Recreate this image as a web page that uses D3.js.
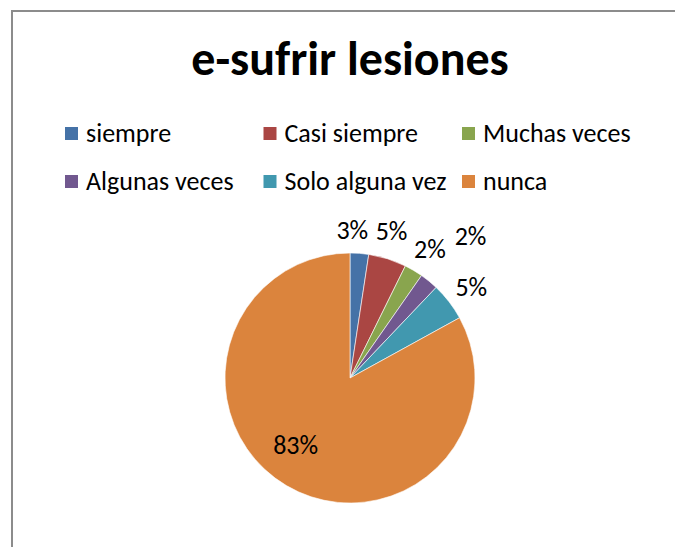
<!DOCTYPE html>
<html>
<head>
<meta charset="utf-8">
<script src="https://cdn.jsdelivr.net/npm/d3@7"></script>
<style>
    body { margin: 0; background: #fff; }
    svg text { font-family: Carlito, Calibri, Lato, sans-serif; fill: #000; }
</style>
</head>
<body>
<div id="chart"></div>
<script>
// data
var title = "e-sufrir lesiones";
var categories = ["siempre", "Casi siempre", "Muchas veces", "Algunas veces", "Solo alguna vez", "nunca"];
var values = [2.4, 4.9, 2.4, 2.4, 4.9, 83];
var valueLabels = ["3%", "5%", "2%", "2%", "5%", "83%"];
var colors = ["#4572A7", "#AA4643", "#89A54E", "#71588F", "#4198AF", "#DB843D"];

var svg_width = 675, svg_height = 547;
var svg = d3.select("#chart").append("svg")
    .attr("width", svg_width)
    .attr("height", svg_height);

// chart frame (cut off at right and bottom in the reference)
svg.append("path")
    .attr("d", "M12," + svg_height + "V11H" + svg_width)
    .attr("fill", "none")
    .attr("stroke", "#8c8c8c")
    .attr("stroke-width", 2);

svg.append("text")
    .attr("x", 350)
    .attr("y", 75)
    .attr("text-anchor", "middle")
    .style("font-size", "48px")
    .style("font-weight", "bold")
    .text(title);

// legend: 3 columns, 2 rows
var legend = svg.append("g").attr("class", "legend");
var colX = d3.scaleLinear().domain([0, 1]).range([65, 263.5]);
var rowY = d3.scaleLinear().domain([0, 1]).range([142, 190]);
var item = legend.selectAll(".item")
    .data(categories)
  .enter().append("g")
    .attr("class", "item")
    .attr("transform", function(d, i) {
        return "translate(" + colX(i % 3) + "," + rowY(Math.floor(i / 3)) + ")";
    });
item.append("rect")
    .attr("x", 0)
    .attr("y", -15)
    .attr("width", 13)
    .attr("height", 13)
    .attr("fill", function(d, i) { return colors[i]; });
item.append("text")
    .attr("x", 21)
    .attr("y", 0)
    .style("font-size", "26px")
    .text(function(d) { return d; });

// pie
var cx = 350, cy = 378, radius = 125;
var pie = d3.pie().sort(null).value(function(d) { return d; });
var arc = d3.arc().innerRadius(0).outerRadius(radius);
var arcs = pie(values);

var g = svg.append("g").attr("transform", "translate(" + cx + "," + cy + ")");
g.selectAll(".slice")
    .data(arcs)
  .enter().append("path")
    .attr("class", "slice")
    .attr("d", arc)
    .attr("fill", function(d, i) { return colors[i]; })
    .attr("stroke", "#fff")
    .attr("stroke-width", 0.6);

// label radius per slice (outside end, one pushed out to avoid overlap, big slice inside)
var labelRadius = [148, 153, 152, 186, 152, 86];
var labelTurn = [-0.06, -0.03, 0.02, 0.02, 0.01, 0.15];
g.selectAll(".label")
    .data(arcs)
  .enter().append("text")
    .attr("class", "label")
    .attr("text-anchor", "middle")
    .attr("dy", "0.35em")
    .style("font-size", "26px")
    .attr("transform", function(d, i) {
        var a = (d.startAngle + d.endAngle) / 2 + labelTurn[i];
        var r = labelRadius[i];
        return "translate(" + (Math.sin(a) * r) + "," + (-Math.cos(a) * r) + ")";
    })
    .text(function(d, i) { return valueLabels[i]; });
</script>
</body>
</html>
